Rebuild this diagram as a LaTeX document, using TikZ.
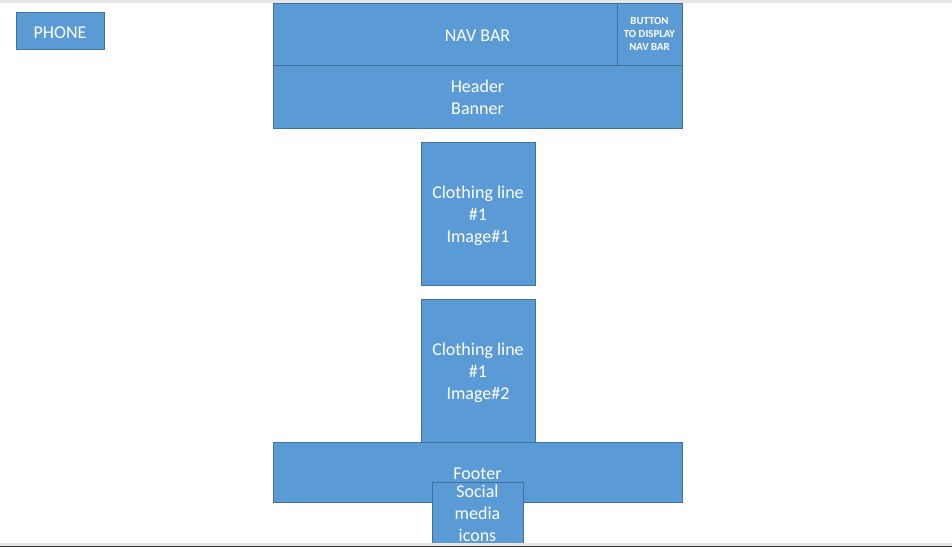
\documentclass[tikz,border=0pt]{standalone}
\usepackage{fontspec}
\setmainfont{Carlito}
\definecolor{boxblue}{HTML}{5B9BD5}
\definecolor{boxline}{HTML}{41719C}
\definecolor{edgegray}{HTML}{E6E6E6}
\newcommand{\padtop}[1]{\rule{0pt}{#1pt}}
\tikzset{
  box/.style={draw=boxline, fill=boxblue, line width=0.8pt, text=white,
    inner sep=0pt, align=center, font={\fontsize{18}{22}\selectfont}},
  tinybox/.style={box, font={\bfseries\fontsize{10.8}{13}\selectfont}}
}
\begin{document}
\begin{tikzpicture}[x=1pt, y=-1pt]

  \useasboundingbox (0,0) rectangle (952,547);
  % window edges
  \fill[edgegray] (0,0) rectangle (952,3);

  % phone label
  \node[box, minimum width=88, minimum height=37] (phone) at (60,30.5) {\padtop{16}PHONE};

  % header
  \node[box, minimum width=409, minimum height=62] (navbar) at (477.5,34) {\padtop{14}NAV BAR};
  \node[tinybox, minimum width=65, minimum height=62] (button) at (649.5,34) {BUTTON\\TO DISPLAY\\NAV BAR};
  \node[box, minimum width=409, minimum height=63] (header) at (477.5,96.5) {\padtop{15}Header\\Banner};

  % clothing images
  \node[box, minimum width=114, minimum height=143] (cloth1) at (478,213.5) {\padtop{17}Clothing line\\\#1\\Image\#1};
  \node[box, minimum width=114, minimum height=143] (cloth2) at (478,370.5) {\padtop{17}Clothing line\\\#1\\Image\#2};

  % footer
  \node[box, minimum width=409, minimum height=60] (footer) at (477.5,472) {\padtop{15}Footer};
  \node[box, minimum width=91, minimum height=62] (social) at (477.5,513) {Social\\media\\icons};

  \fill[edgegray] (0,543) rectangle (952,546);
  \fill[black!80] (0,546) rectangle (952,547);

\end{tikzpicture}
\end{document}
